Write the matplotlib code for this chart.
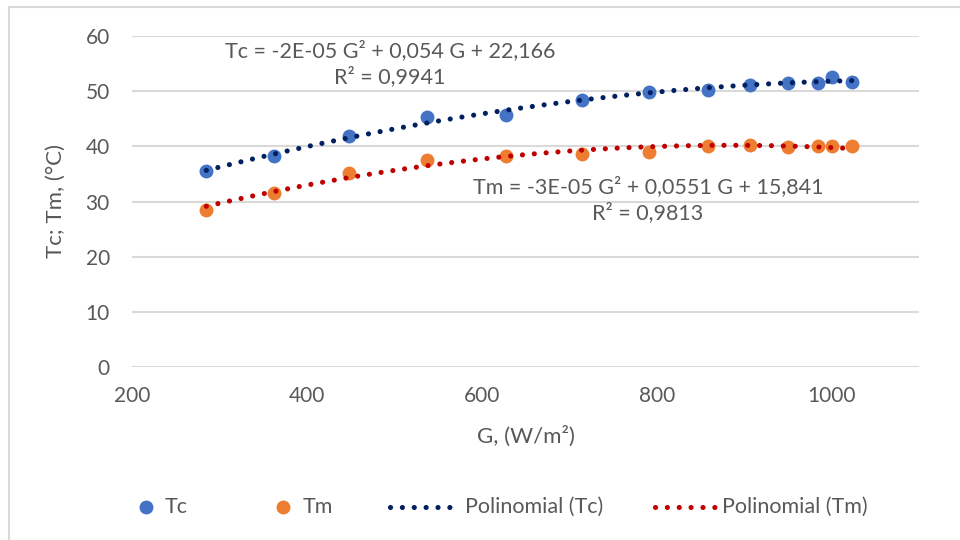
import numpy as np
import matplotlib
matplotlib.use("Agg")
import matplotlib.pyplot as plt
from matplotlib.lines import Line2D
from matplotlib.patches import Rectangle

plt.rcParams['font.family'] = ['Lato', 'DejaVu Sans']

# Irradiance (W/m²) and measured temperatures (°C)
G = [285, 362, 448, 537, 628, 715, 791, 859, 907, 950, 984, 1001, 1023]
Tc = [35.6, 38.2, 41.8, 45.3, 45.7, 48.4, 49.8, 50.2, 51.2, 51.5, 51.5, 52.6, 51.6]
Tm = [28.5, 31.6, 35.2, 37.5, 38.3, 38.7, 38.9, 40.0, 40.3, 39.8, 40.0, 40.0, 40.0]

x_ticks = [200, 400, 600, 800, 1000]
y_ticks = [0, 10, 20, 30, 40, 50, 60]

eq_tc = "Tc = -2E-05 G² + 0,054 G + 22,166\nR² = 0,9941"
eq_tm = "Tm = -3E-05 G² + 0,0551 G + 15,841\nR² = 0,9813"
labels = ["Tc", "Tm", "Polinomial (Tc)", "Polinomial (Tm)"]

C_TC = "#4472C4"
C_TM = "#ED7D31"
C_TC_FIT = "#002060"
C_TM_FIT = "#C00000"
TXT = "#595959"
GRID = "#D9D9D9"
FS = 15.5

W, H = 960, 540
def fx(px):
    return px / W
def fy(py):
    return 1 - py / H

fig = plt.figure(figsize=(9.6, 5.4), dpi=100)
fig.patch.set_facecolor("white")

# chart-area border
fig.add_artist(Rectangle((fx(9), -0.05), 1.2, fy(7) + 0.05,
                         transform=fig.transFigure, fill=False,
                         edgecolor="#D9D9D9", linewidth=1.5, zorder=0))

ax = fig.add_axes([fx(132), fy(367), (919 - 132) / W, (367 - 36) / H])
ax.set_xlim(200, 1100)
ax.set_ylim(0, 60)
ax.set_xticks(x_ticks)
ax.set_yticks(y_ticks)
for s in ax.spines.values():
    s.set_visible(False)
ax.tick_params(length=0, labelsize=FS - 0.5, labelcolor=TXT)
ax.tick_params(axis='y', pad=16)
ax.tick_params(axis='x', pad=14)
ax.grid(axis='y', color=GRID, linewidth=1.5)
ax.set_axisbelow(True)

LW = 3.7
dot = (0, (0.01, 2.3))
gx = np.linspace(min(G), max(G), 200)
fit_tc = np.polyval(np.polyfit(G, Tc, 2), gx)
fit_tm = np.polyval(np.polyfit(G, Tm, 2), gx)

MS = 10
ax.plot(G, Tc, 'o', color=C_TC, ms=MS, mec='none', zorder=3)
ax.plot(G, Tm, 'o', color=C_TM, ms=MS, mec='none', zorder=3)
ax.plot(gx, fit_tc, color=C_TC_FIT, lw=LW, linestyle=dot, dash_capstyle='round', zorder=4)
ax.plot(gx, fit_tm, color=C_TM_FIT, lw=LW, linestyle=dot, dash_capstyle='round', zorder=4)

fig.text(fx(390), fy(64), eq_tc, ha='center', va='center', fontsize=FS,
         color=TXT, linespacing=1.3)
fig.text(fx(648), fy(200), eq_tm, ha='center', va='center', fontsize=FS,
         color=TXT, linespacing=1.3)

ax.set_xlabel("G, (W/m²)", fontsize=FS + 0.5, color=TXT, labelpad=14)
ax.set_ylabel("Tc; Tm, (°C)", fontsize=FS + 0.5, color=TXT, labelpad=14)

# legend row along the bottom
ly = fy(507)
fig.add_artist(Line2D([fx(146)], [ly], marker='o', ls='none', color=C_TC, ms=MS,
                      mec='none', transform=fig.transFigure))
fig.add_artist(Line2D([fx(283)], [ly], marker='o', ls='none', color=C_TM, ms=MS,
                      mec='none', transform=fig.transFigure))
fig.add_artist(Line2D([fx(390), fx(455)], [ly, ly], color=C_TC_FIT, lw=LW, ls=dot,
                      dash_capstyle='round', transform=fig.transFigure))
fig.add_artist(Line2D([fx(655), fx(715)], [ly, ly], color=C_TM_FIT, lw=LW, ls=dot,
                      dash_capstyle='round', transform=fig.transFigure))
for px, lab in zip([165, 303, 465, 722], labels):
    fig.text(fx(px), ly, lab, ha='left', va='center', fontsize=FS, color=TXT)

fig.savefig("out.png", dpi=100)
